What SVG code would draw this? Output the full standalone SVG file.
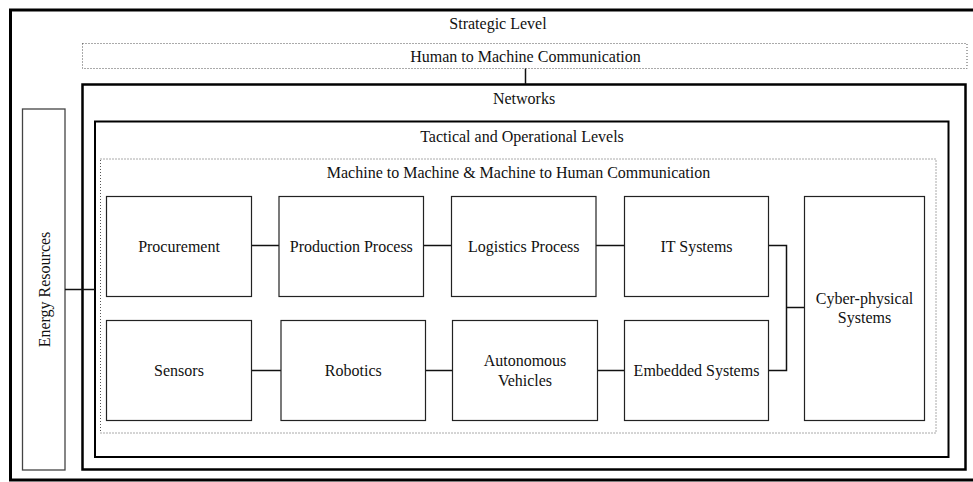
<svg xmlns="http://www.w3.org/2000/svg" width="973" height="482" viewBox="0 0 973 482">
<style>
text{font-family:"Liberation Serif","Times New Roman",serif;font-size:16px;fill:#111;text-anchor:middle}
.box{fill:#fff;stroke:#222;stroke-width:1.2}
.dot{fill:none;stroke:#555;stroke-width:1;stroke-dasharray:1 2}
.con{fill:none;stroke:#111;stroke-width:1.5}
</style>
<rect width="973" height="482" fill="#fff"/>
<g id="strategic">
<rect x="10.5" y="10" width="975" height="470" fill="none" stroke="#000" stroke-width="3"/>
<text x="498" y="29">Strategic Level</text>
</g>
<g id="h2m">
<rect class="dot" x="82.5" y="43.5" width="884.5" height="25"/>
<text x="525.5" y="62">Human to Machine Communication</text>
</g>
<g id="networks">
<rect x="82.5" y="84.5" width="883" height="385" fill="none" stroke="#000" stroke-width="2.5"/>
<text x="524" y="104">Networks</text>
</g>
<g id="energy">
<rect x="22.5" y="109" width="42.5" height="361" fill="#fff" stroke="#444" stroke-width="1.3"/>
<text transform="translate(44,289.5) rotate(-90)" x="0" y="6">Energy Resources</text>
</g>
<g id="tactical">
<rect x="95" y="121.5" width="853.5" height="335.5" fill="none" stroke="#000" stroke-width="2"/>
<text x="522" y="141.5">Tactical and Operational Levels</text>
</g>
<g id="m2m">
<rect class="dot" x="100.5" y="159" width="835.5" height="274"/>
<text x="518.5" y="178">Machine to Machine &amp; Machine to Human Communication</text>
</g>
<g id="connectors">
<line class="con" x1="525.5" y1="68.5" x2="525.5" y2="84"/>
<line class="con" x1="65" y1="289.5" x2="95" y2="289.5"/>
<line class="con" x1="251.5" y1="245.5" x2="279" y2="245.5"/>
<line class="con" x1="423.5" y1="245.5" x2="451.5" y2="245.5"/>
<line class="con" x1="596" y1="245.5" x2="624.5" y2="245.5"/>
<line class="con" x1="251.5" y1="370.5" x2="281" y2="370.5"/>
<line class="con" x1="425.5" y1="370.5" x2="452.5" y2="370.5"/>
<line class="con" x1="597.5" y1="370.5" x2="624.5" y2="370.5"/>
<polyline class="con" points="768.5,245.5 786.5,245.5 786.5,370.5 768.5,370.5"/>
<line class="con" x1="786.5" y1="307.5" x2="804.5" y2="307.5"/>
</g>
<g id="procurement">
<rect class="box" x="106.5" y="196.5" width="145" height="100"/>
<text x="179" y="251.5">Procurement</text>
</g>
<g id="production">
<rect class="box" x="279" y="196.5" width="144.5" height="100"/>
<text x="351.3" y="251.5">Production Process</text>
</g>
<g id="logistics">
<rect class="box" x="451.5" y="196.5" width="144.5" height="100"/>
<text x="523.8" y="251.5">Logistics Process</text>
</g>
<g id="it">
<rect class="box" x="624.5" y="196.5" width="144" height="100"/>
<text x="696.5" y="251.5">IT Systems</text>
</g>
<g id="sensors">
<rect class="box" x="106.5" y="320.5" width="145" height="100"/>
<text x="179" y="376">Sensors</text>
</g>
<g id="robotics">
<rect class="box" x="281" y="320.5" width="144.5" height="100"/>
<text x="353.3" y="376">Robotics</text>
</g>
<g id="autonomous">
<rect class="box" x="452.5" y="320.5" width="145" height="100"/>
<text x="525" y="366">Autonomous</text>
<text x="525" y="385.5">Vehicles</text>
</g>
<g id="embedded">
<rect class="box" x="624.5" y="320.5" width="144" height="100"/>
<text x="696.5" y="376">Embedded Systems</text>
</g>
<g id="cps">
<rect class="box" x="804.5" y="196.5" width="120" height="224"/>
<text x="864.5" y="303.5">Cyber-physical</text>
<text x="864.5" y="323">Systems</text>
</g>
</svg>
